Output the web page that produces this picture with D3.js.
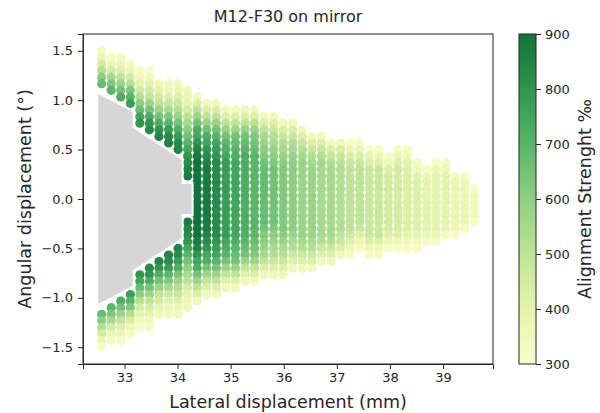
<!DOCTYPE html>
<meta charset="utf-8">
<style>
body { margin: 0; background: #fff; }
text { font-family: "DejaVu Sans", sans-serif; fill: #262626; }
.axis path, .axis line { stroke: #262626; stroke-width: 1; }
</style>
<svg id="chart" width="600" height="413"></svg>
<script src="https://cdn.jsdelivr.net/npm/d3@7"></script>
<script>

// lateral position of each scanned column (mm)
const lateral = [32.57, 32.75, 32.93, 33.11, 33.29, 33.47, 33.65, 33.83, 34.01, 34.19,
  34.37, 34.55, 34.73, 34.91, 35.09, 35.27, 35.45, 35.63, 35.81, 35.99,
  36.17, 36.35, 36.53, 36.71, 36.89, 37.07, 37.25, 37.43, 37.61, 37.79,
  37.97, 38.15, 38.33, 38.51, 38.69, 38.87, 39.05, 39.23, 39.41, 39.59]

// angular position of each row (deg), row 0 at the top
const angular = [1.5, 1.433, 1.367, 1.3, 1.233, 1.167, 1.1, 1.033, 0.967, 0.9,
  0.833, 0.767, 0.7, 0.633, 0.567, 0.5, 0.433, 0.367, 0.3, 0.233,
  0.167, 0.1, 0.033, -0.033, -0.1, -0.167, -0.233, -0.3, -0.367, -0.433,
  -0.5, -0.567, -0.633, -0.7, -0.767, -0.833, -0.9, -0.967, -1.033, -1.1,
  -1.167, -1.233, -1.3, -1.367, -1.433, -1.5]

// strength per column: [first row, levels], a = 300 ... y = 900 (steps of 25)
const strength = [
  [[0, "bdgjmp"], [40, "pmjgdb"]],
  [[1, "bdgknq"], [39, "qnkgdb"]],
  [[1, "bdfilor"], [38, "rolifdb"]],
  [[2, "bdgjnqt"], [37, "tqnjgdb"]],
  [[3, "bcegjmpsu"], [34, "uspmjgecb"]],
  [[3, "bcegiloruv"], [33, "vuroligecb"]],
  [[5, "cegiloruw"], [32, "wuroligec"]],
  [[5, "cdfhknqtvw"], [31, "wvtqnkhfdc"]],
  [[5, "cdfhjlortvw"], [30, "wvtroljhfdc"]],
  [[6, "cdegikmoqsuvwx"], [26, "xwvusqomkigedc"]],
  [[7, "cfilorsuwx" + "yyyyyyyyyyyy" + "xwusrolifc"]],
  [[8, "cfilorsuvw" + "xxxxxxxxxx" + "wvusrolifc"]],
  [[8, "cfiloqstu" + "vvvvvvvvvvvv" + "utsqolifc"]],
  [[9, "cfiloqrs" + "tttttttttttt" + "srqolifc"]],
  [[9, "cfilopqr" + "ssssssssssss" + "rqpolifc"]],
  [[9, "cfilopq" + "rrrrrrrrrrrrr" + "qpolifc"]],
  [[9, "cfilnop" + "qqqqqqqqqqqqq" + "ponlifc"]],
  [[10, "cfiklmno" + "ppppppppp" + "onmlkifc"]],
  [[10, "cfhjklmn" + "ooooooooo" + "nmlkjhfc"]],
  [[11, "cfhjklm" + "nnnnnnnnnn" + "mlkjhfc"]],
  [[11, "cfhjkl" + "mmmmmmmmmmm" + "lkjhfc"]],
  [[12, "cfhjk" + "llllllllllll" + "kjhfc"]],
  [[13, "cfhjk" + "lllllllllll" + "kjhfc"]],
  [[13, "cfhj" + "kkkkkkkkkkkk" + "jhfc"]],
  [[14, "cfhj" + "kkkkkkkkkkk" + "jhfc"]],
  [[14, "cfhi" + "jjjjjjjjjj" + "ihfc"]],
  [[14, "bdfh" + "iiiiiiiiii" + "hfdb"]],
  [[14, "bdfh" + "iiiiiiiii" + "hfdb"]],
  [[15, "bdf" + "hhhhhhhhhhh" + "fdb"]],
  [[15, "bdf" + "hhhhhhhhhhh" + "fdb"]],
  [[16, "bdf" + "ggggggggg" + "fdb"]],
  [[15, "bdf" + "gggggggggg" + "fdb"]],
  [[15, "bce" + "ffffffffff" + "ecb"]],
  [[17, "bce" + "ffffffff" + "ecb"]],
  [[18, "bd" + "eeeeeeee" + "db"]],
  [[17, "bd" + "eeeeeeeee" + "db"]],
  [[17, "bd" + "eeeeeeee" + "db"]],
  [[19, "b" + "dddddddd" + "b"]],
  [[19, "b" + "ddddddd" + "b"]],
  [[21, "bccccb"]]
]

// unreachable zone (grey), lateral/angular corners
const greyZone = [[32.487, 1.079], [33.173, 0.887], [33.173, 0.726], [34.094, 0.403],
  [34.094, 0.161], [34.282, 0.161], [34.282, -0.161], [34.094, -0.161],
  [34.094, -0.403], [33.173, -0.726], [33.173, -0.887], [32.487, -1.079]]

const xTicks = [33, 34, 35, 36, 37, 38, 39]
const yTicks = [-1.5, -1.0, -0.5, 0.0, 0.5, 1.0, 1.5]
const cbTicks = [300, 400, 500, 600, 700, 800, 900]

const margin = {top: 34, left: 83},
    width = 410,
    height = 330

const svg = d3.select("#chart")

const x = d3.scaleLinear().domain([32.219, 39.941]).range([0, width])
const y = d3.scaleLinear().domain([-1.67, 1.67]).range([height, 0])
const color = d3.scaleSequential(t => d3.interpolateYlGn(0.08 + 0.74 * t)).domain([300, 900])

// flatten to points
const points = []
strength.forEach((segs, i) => {
  segs.forEach(([row0, levels]) => {
    for (let j = 0; j < levels.length; j++) {
      points.push({
        lat: lateral[i],
        ang: angular[row0 + j],
        val: 300 + 25 * (levels.charCodeAt(j) - 97)
      })
    }
  })
})

const plot = svg.append("g")
    .attr("transform", `translate(${margin.left}, ${margin.top})`)

plot.append("clipPath").attr("id", "clip")
  .append("rect").attr("width", width).attr("height", height)

const inner = plot.append("g").attr("clip-path", "url(#clip)")

inner.selectAll("circle")
  .data(points)
  .join("circle")
    .attr("cx", d => x(d.lat))
    .attr("cy", d => y(d.ang))
    .attr("r", 4.6)
    .attr("fill", d => color(d.val))

inner.append("path")
    .attr("d", d3.line().x(d => x(d[0])).y(d => y(d[1]))(greyZone) + "Z")
    .attr("fill", "#d6d6d6")
    .attr("stroke", "#fff")
    .attr("stroke-width", 2)

plot.append("g")
    .attr("class", "axis")
    .attr("transform", `translate(0, ${height})`)
    .call(d3.axisBottom(x).tickValues(xTicks).tickFormat(d3.format("d")).tickSize(5).tickPadding(4))
    .call(g => g.selectAll("text").attr("font-size", 13))

plot.append("g")
    .attr("class", "axis")
    .call(d3.axisLeft(y).tickValues(yTicks).tickFormat(d3.format(".1f")).tickSize(5).tickPadding(5))
    .call(g => g.selectAll("text").attr("font-size", 13))

// frame
plot.append("rect")
    .attr("width", width).attr("height", height)
    .attr("fill", "none").attr("stroke", "#262626").attr("stroke-width", 1)

svg.append("text")
    .attr("x", margin.left + width / 2).attr("y", 22)
    .attr("text-anchor", "middle").attr("font-size", 16)
    .text("M12-F30 on mirror")

svg.append("text")
    .attr("x", margin.left + width / 2).attr("y", 408)
    .attr("text-anchor", "middle").attr("font-size", 17.5)
    .text("Lateral displacement (mm)")

svg.append("text")
    .attr("transform", `translate(31, ${margin.top + height / 2}) rotate(-90)`)
    .attr("text-anchor", "middle").attr("font-size", 17.5)
    .text("Angular displacement (°)")

// colorbar
const cbX = 519, cbW = 17
const cbScale = d3.scaleLinear().domain([300, 900]).range([height, 0])

const grad = svg.append("defs").append("linearGradient")
    .attr("id", "cbGrad").attr("x1", 0).attr("y1", 1).attr("x2", 0).attr("y2", 0)
grad.selectAll("stop")
  .data(d3.range(0, 1.0001, 0.05))
  .join("stop")
    .attr("offset", d => d)
    .attr("stop-color", d => color(300 + 600 * d))

const cb = svg.append("g").attr("transform", `translate(${cbX}, ${margin.top})`)
cb.append("rect")
    .attr("width", cbW).attr("height", height)
    .attr("fill", "url(#cbGrad)")
    .attr("stroke", "#262626").attr("stroke-width", 1)

cb.append("g")
    .attr("class", "axis")
    .attr("transform", `translate(${cbW}, 0)`)
    .call(d3.axisRight(cbScale).tickValues(cbTicks).tickSize(5).tickPadding(4))
    .call(g => g.select(".domain").remove())
    .call(g => g.selectAll("text").attr("font-size", 13))

svg.append("text")
    .attr("transform", `translate(591, ${margin.top + height / 2}) rotate(-90)`)
    .attr("text-anchor", "middle").attr("font-size", 17.5)
    .text("Alignment Strenght ‰")

</script>
